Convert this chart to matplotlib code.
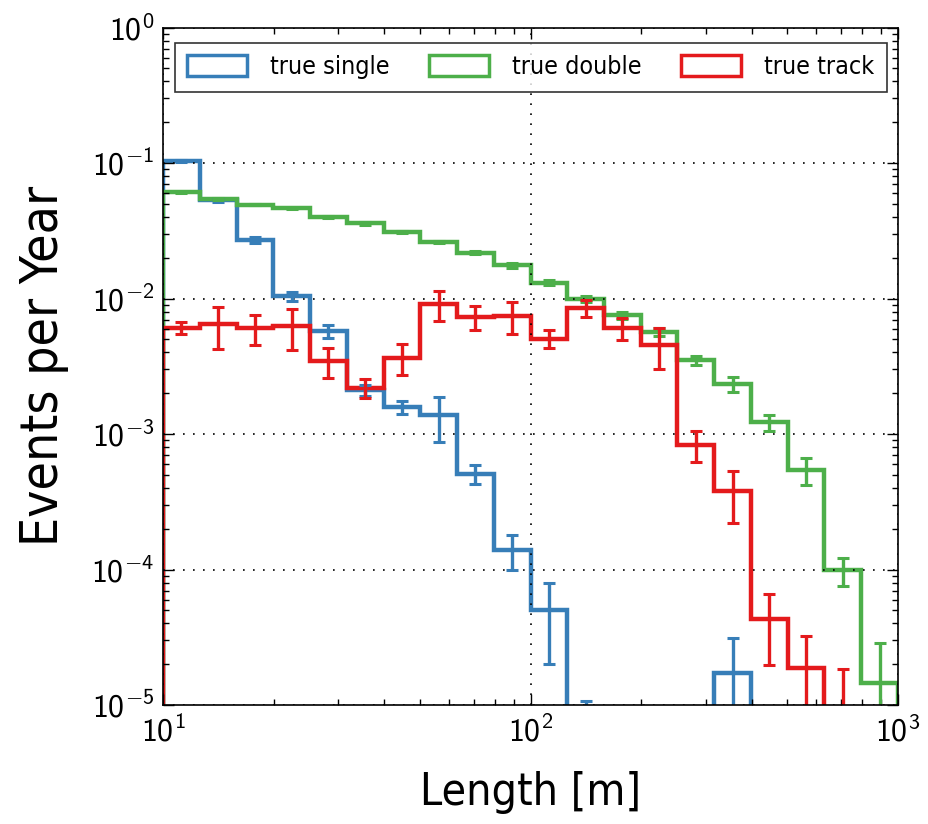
import numpy as np
import matplotlib
matplotlib.use('Agg')
import matplotlib.pyplot as plt
from matplotlib.patches import Patch
from matplotlib.ticker import FuncFormatter

#*** Data (20 log bins, 10 m -> 1000 m)
edges = np.logspace(1, 3, 21)

single = [0.103, 0.053, 0.0271, 0.01045, 0.00575, 0.0021, 0.00158, 0.00138,
          5.1e-4, 1.4e-4, 5.0e-5, 7e-6, 0, 0, 0, 1.73e-5, 0, 0, 0, 0]
single_err = [2e-3, 1.5e-3, 1.2e-3, 8e-4, 6.8e-4, 2e-4, 1.7e-4, 5e-4,
              8e-5, 4e-5, 3e-5, 3.7e-6, 0, 0, 0, 1.4e-5, 0, 0, 0, 0]

double = [0.0607, 0.0542, 0.0494, 0.0462, 0.0399, 0.0358, 0.0309, 0.0261,
          0.0218, 0.0176, 0.0131, 0.0100, 0.0075, 0.00569, 0.00351, 0.00233,
          0.00122, 5.4e-4, 9.9e-5, 1.46e-5]
double_err = [9e-4, 8e-4, 7e-4, 7e-4, 7e-4, 7e-4, 7e-4, 6e-4,
              6e-4, 8e-4, 6e-4, 5e-4, 4.7e-4, 3.9e-4, 2.7e-4, 2.9e-4,
              1.7e-4, 1.2e-4, 2.3e-5, 1.4e-5]

track = [0.0061, 0.00644, 0.00603, 0.00627, 0.00345, 0.00219, 0.00366, 0.00906,
         0.0073, 0.00743, 0.00505, 0.00851, 0.00603, 0.00451, 8.36e-4, 3.77e-4,
         4.28e-5, 1.88e-5, 8e-6, 0]
track_err = [6e-4, 2.2e-3, 1.5e-3, 2.1e-3, 8.5e-4, 3.4e-4, 9.5e-4, 2.25e-3,
             1.45e-3, 1.95e-3, 7.7e-4, 1.25e-3, 1.1e-3, 1.5e-3, 2.1e-4, 1.55e-4,
             2.3e-5, 1.35e-5, 1.03e-5, 0]

labels = ['true single', 'true double', 'true track']
colors = ['#377eb8', '#4daf4a', '#e41a1c']

# sans computer-modern look for the tick labels
plt.rcParams['mathtext.fontset'] = 'custom'
plt.rcParams['mathtext.rm'] = 'cmss10'
plt.rcParams['mathtext.it'] = 'cmss10'
plt.rcParams['mathtext.sf'] = 'cmss10'
plt.rcParams['axes.formatter.use_mathtext'] = True

#*** Plot
fig = plt.figure(figsize=(9.29, 8.24), dpi=100)
ax = fig.add_axes([0.1755, 0.1444, 0.7911, 0.8222])

centers = np.sqrt(edges[:-1]*edges[1:])
floor = 1e-12

for vals, errs, col in zip([single, double, track],
                           [single_err, double_err, track_err], colors):
    vals = np.array(vals, dtype=float)
    errs = np.array(errs, dtype=float)
    ax.stairs(np.where(vals > 0, vals, floor), edges, baseline=floor,
              color=col, lw=3.2)
    m = vals > 0
    ax.errorbar(centers[m], vals[m], yerr=errs[m], fmt='none', ecolor=col,
                elinewidth=2.4, capsize=4, capthick=2.2)

ax.set_xscale('log')
ax.set_yscale('log')
ax.set_xlim(10, 1000)
ax.set_ylim(1e-5, 1)

fmt = FuncFormatter(lambda v, p: r'$\mathrm{10^{%d}}$' % int(round(np.log10(v))))
ax.xaxis.set_major_formatter(fmt)
ax.yaxis.set_major_formatter(fmt)

ax.grid(True, which='major', color='black', linestyle=(0, (1, 5)), lw=1.2)
ax.tick_params(which='both', direction='in', top=True, right=True,
               labelsize=23)
ax.tick_params(axis='y', pad=6)
ax.tick_params(axis='x', pad=8)
ax.tick_params(which='major', length=8, width=1)
ax.tick_params(which='minor', length=4, width=1)
for s in ax.spines.values():
    s.set_linewidth(1.2)

ax.set_xlabel('Length [m]', fontsize=32, family='DejaVu Sans',
              fontstretch='condensed', labelpad=16)
ax.set_ylabel('Events per Year', fontsize=37, family='DejaVu Sans',
              fontstretch='condensed', labelpad=16)

handles = [Patch(facecolor='none', edgecolor=c, lw=2.5) for c in colors]
leg = ax.legend(handles, labels, loc='upper center', ncol=3, fancybox=False,
                edgecolor='black', handlelength=2.4, handleheight=0.9,
                handletextpad=0.9, columnspacing=1.6, borderaxespad=0.6,
                borderpad=0.5,
                prop={'family': 'DejaVu Sans', 'stretch': 'condensed', 'size': 18})
leg.get_frame().set_linewidth(1.2)

fig.savefig('out.png', dpi=100)
